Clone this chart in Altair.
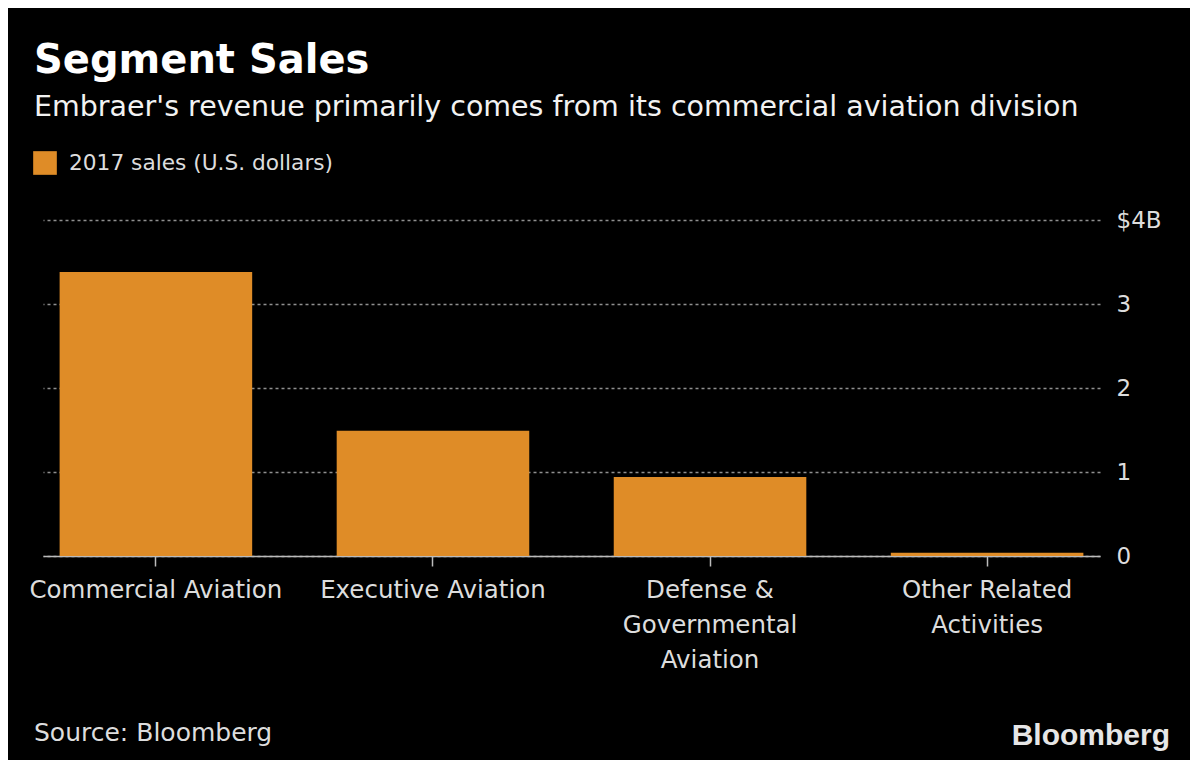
import altair as alt
import pandas as pd

categories = ["Commercial Aviation", "Executive Aviation",
              "Defense &\nGovernmental\nAviation", "Other Related\nActivities"]
sales_billion = [3.38, 1.49, 0.94, 0.04]
series_name = "2017 sales (U.S. dollars)"
y_ticks = [0, 1, 2, 3, 4]

FONT = "DejaVu Sans"
ORANGE = "#DF8C27"

df = pd.DataFrame({"segment": categories, "sales": sales_billion,
                   "series": [series_name] * len(categories)})

bars = alt.Chart(df).mark_bar(color=ORANGE).encode(
    x=alt.X("segment:N", sort=categories,
            scale=alt.Scale(paddingInner=0.305, paddingOuter=0.06),
            axis=alt.Axis(title=None, labelAngle=0,
                          labelExpr="split(datum.label, '\\n')",
                          labelFont=FONT, labelFontSize=24.5, labelColor="#DDDDDD",
                          labelLineHeight=35, labelPadding=12, labelLimit=0,
                          tickSize=10, tickColor="#BBBBBB", tickWidth=1.5,
                          domainColor="#BBBBBB", domainWidth=1.5,
                          labelBaseline="top")),
    y=alt.Y("sales:Q", scale=alt.Scale(domain=[0, 4]),
            axis=alt.Axis(title=None, orient="right", values=y_ticks,
                          labelExpr="datum.value == 4 ? '$4B' : datum.label",
                          labelFont=FONT, labelFontSize=23, labelColor="#DDDDDD",
                          labelPadding=16, ticks=False, domain=False,
                          grid=True, gridColor="#8F8F8F", gridDash=[3, 3],
                          gridWidth=1.5)),
    fill=alt.Fill("series:N", scale=alt.Scale(range=[ORANGE]),
                  legend=alt.Legend(title=None, orient="none", legendX=-10, legendY=-69,
                                    symbolType="square", symbolSize=560,
                                    symbolStrokeWidth=0, labelLimit=0,
                                    labelFont=FONT, labelFontSize=21.7,
                                    labelColor="#DDDDDD", labelOffset=12)),
)

source = alt.Chart(pd.DataFrame({"t": ["Source: Bloomberg"]})).mark_text(
    align="left", baseline="alphabetic", font=FONT, fontSize=25, color="#DDDDDD"
).encode(text="t:N", x=alt.value(-9), y=alt.value(521))

logo = alt.Chart(pd.DataFrame({"t": ["Bloomberg"]})).mark_text(
    align="right", baseline="alphabetic", font="Liberation Sans", fontWeight="bold",
    fontSize=30, color="#E6E6E6"
).encode(text="t:N", x=alt.value(1127), y=alt.value(525))

chart = alt.layer(bars, source, logo).properties(
    width=1057, height=336,
    background="#000000",
    padding={"left": 35, "top": 212, "right": 90, "bottom": 204},
    autosize=alt.AutoSizeParams(type="none"),
    title=alt.Title("Segment Sales",
                    subtitle="Embraer's revenue primarily comes from its commercial aviation division",
                    anchor="start", frame="group", dx=-9, offset=30,
                    font=FONT, fontSize=40, fontWeight="bold", color="#FFFFFF",
                    subtitleFont=FONT, subtitleFontSize=28.5, subtitleColor="#F2F2F2",
                    subtitlePadding=12),
).configure_view(stroke=None)

chart.save("out.html", embed_options={"renderer": "svg", "actions": False})
